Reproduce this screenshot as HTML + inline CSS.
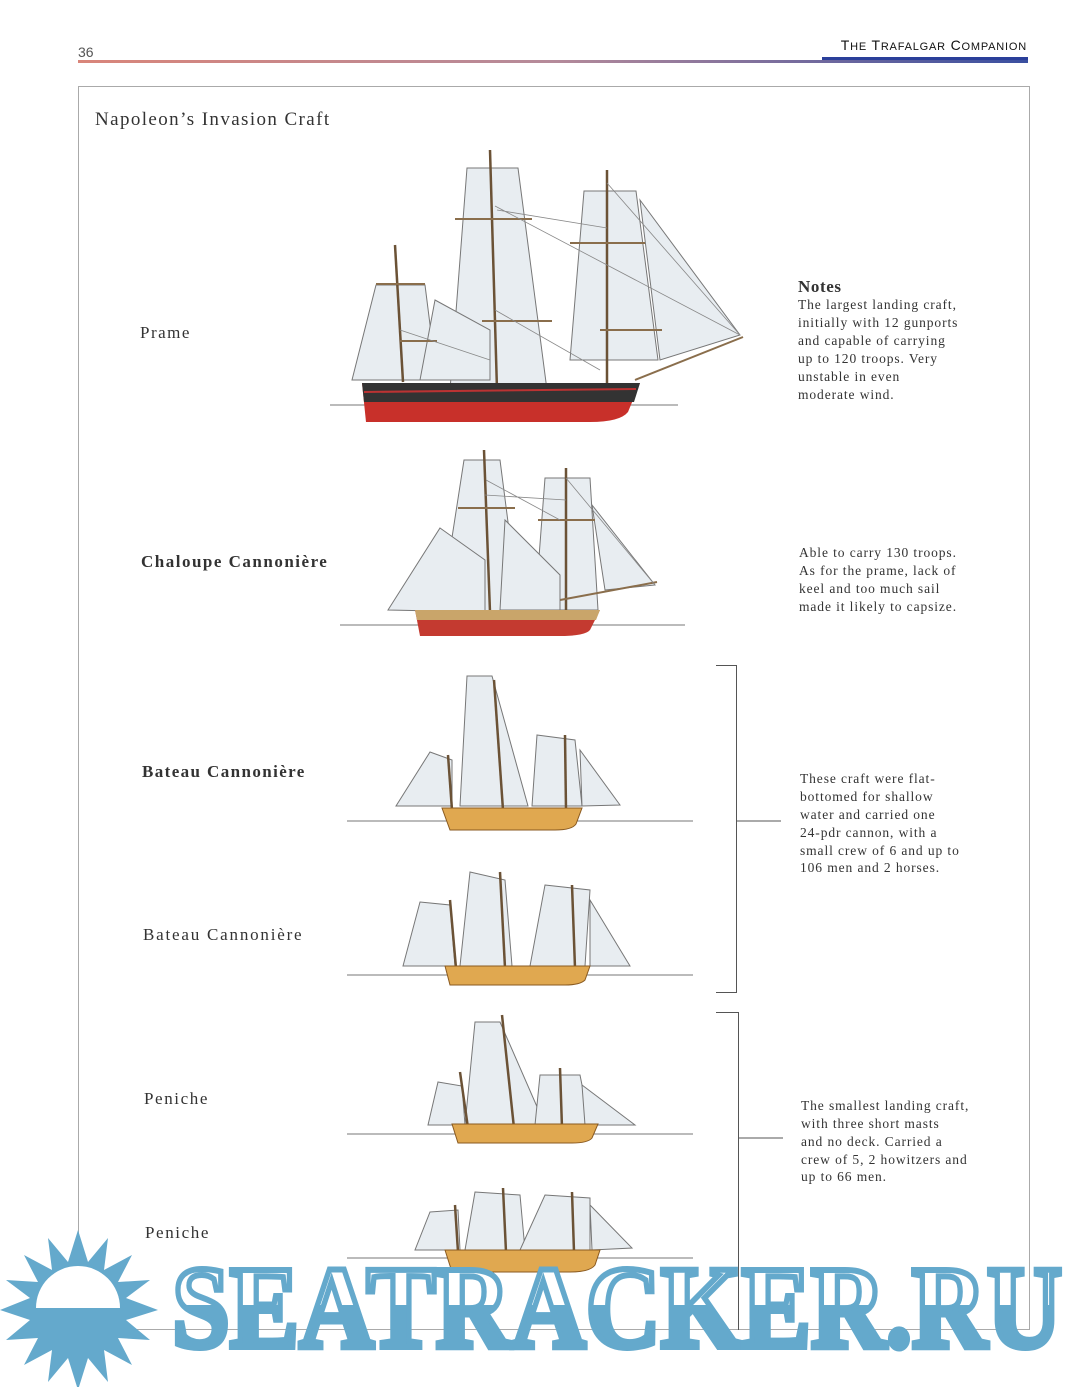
<!DOCTYPE html>
<html><head><meta charset="utf-8"><style>
html,body{margin:0;padding:0;background:#fff;}
svg{display:block;}
.s{font-family:"Liberation Serif",serif;fill:#333;}
.sail{fill:#e8edf1;stroke:#777;stroke-width:1;}
.mast{stroke:#6b5236;stroke-width:2.5;}
.yard{stroke:#8a6e4c;stroke-width:2;}
.rig{stroke:#888;stroke-width:0.8;fill:none;}
.wl{stroke:#777;stroke-width:1;}
</style></head><body>
<svg width="1080" height="1387" viewBox="0 0 1080 1387" xmlns="http://www.w3.org/2000/svg">
<defs>
<linearGradient id="hl" x1="0" x2="1"><stop offset="0" stop-color="#d9857a"/><stop offset="0.5" stop-color="#b58a9a"/><stop offset="1" stop-color="#3a4fa0"/></linearGradient>
<linearGradient id="wm" x1="0" x2="0" y1="0" y2="1"><stop offset="0.48" stop-color="#fff"/><stop offset="0.48" stop-color="#64a9cc"/></linearGradient>
</defs>
<text x="78" y="57" font-size="14" fill="#555" style="font-family:'Liberation Sans',sans-serif">36</text>
<text x="1027" y="50" text-anchor="end" font-size="14" letter-spacing="0.8" style="font-family:'Liberation Sans',sans-serif" fill="#111">T<tspan font-size="11">HE</tspan> T<tspan font-size="11">RAFALGAR</tspan> C<tspan font-size="11">OMPANION</tspan></text>
<rect x="78" y="60" width="950" height="3" fill="url(#hl)"/>
<rect x="822" y="57" width="206" height="3" fill="#2a3f9a"/>
<rect x="78.5" y="86.5" width="951" height="1243" fill="none" stroke="#aaa" stroke-width="1"/>
<text x="95" y="125" class="s" font-size="19" letter-spacing="1.4">Napoleon’s Invasion Craft</text>

<!-- labels -->
<text x="140" y="338" class="s" font-size="17" letter-spacing="1.5">Prame</text>
<text x="141" y="567" class="s" font-size="17" font-weight="bold" letter-spacing="1.5">Chaloupe Cannonière</text>
<text x="142" y="777" class="s" font-size="17" font-weight="bold" letter-spacing="1.4">Bateau Cannonière</text>
<text x="143" y="940" class="s" font-size="17" letter-spacing="1.8">Bateau Cannonière</text>
<text x="144" y="1104" class="s" font-size="17" letter-spacing="1.6">Peniche</text>
<text x="145" y="1238" class="s" font-size="17" letter-spacing="1.6">Peniche</text>

<!-- notes -->
<g class="s" font-size="13.5" letter-spacing="0.9">
<text x="798" y="292" font-size="17" font-weight="bold" letter-spacing="0.6">Notes</text>
<text x="798" y="309">The largest landing craft,</text>
<text x="798" y="327">initially with 12 gunports</text>
<text x="798" y="345">and capable of carrying</text>
<text x="798" y="363">up to 120 troops. Very</text>
<text x="798" y="381">unstable in even</text>
<text x="798" y="399">moderate wind.</text>
<text x="799" y="557">Able to carry 130 troops.</text>
<text x="799" y="575">As for the prame, lack of</text>
<text x="799" y="593">keel and too much sail</text>
<text x="799" y="611">made it likely to capsize.</text>
<text x="800" y="783">These craft were flat-</text>
<text x="800" y="801">bottomed for shallow</text>
<text x="800" y="819">water and carried one</text>
<text x="800" y="837">24-pdr cannon, with a</text>
<text x="800" y="855">small crew of 6 and up to</text>
<text x="800" y="872">106 men and 2 horses.</text>
<text x="801" y="1110">The smallest landing craft,</text>
<text x="801" y="1128">with three short masts</text>
<text x="801" y="1146">and no deck. Carried a</text>
<text x="801" y="1164">crew of 5, 2 howitzers and</text>
<text x="801" y="1181">up to 66 men.</text>
</g>

<!-- brackets -->
<g stroke="#555" stroke-width="1" fill="none">
<path d="M716 665.5H736.5V992.5H716"/><path d="M736 821H781"/>
<path d="M716 1012.5H738.5V1330"/><path d="M738 1138H783"/>
</g>

<!-- Prame -->
<g>
<line x1="330" y1="405" x2="678" y2="405" class="wl"/>
<polygon class="sail" points="467,168 518,168 547,390 450,390"/>
<polygon class="sail" points="584,191 636,191 658,360 570,360"/>
<polygon class="sail" points="376,285 425,285 437,380 352,380"/>
<polygon class="sail" points="640,200 740,335 660,360"/>
<polygon class="sail" points="435,300 490,330 490,380 420,380"/>
<line x1="490" y1="150" x2="497" y2="390" class="mast"/>
<line x1="607" y1="170" x2="607" y2="385" class="mast"/>
<line x1="395" y1="245" x2="403" y2="382" class="mast"/>
<line x1="455" y1="219" x2="532" y2="219" class="yard"/><line x1="482" y1="321" x2="552" y2="321" class="yard"/>
<line x1="570" y1="243" x2="645" y2="243" class="yard"/><line x1="600" y1="330" x2="662" y2="330" class="yard"/>
<line x1="376" y1="284" x2="425" y2="284" class="yard"/><line x1="400" y1="341" x2="437" y2="341" class="yard"/>
<line x1="635" y1="380" x2="743" y2="337" class="yard"/>
<path class="rig" d="M495 206L740 335M607 183L740 335M497 210L607 228M400 330L490 360M495 310L600 370"/>
<path d="M362 383H640L628 412Q620 422 590 422H366Z" fill="#c8302a"/>
<path d="M362 383H640L634 402H364Z" fill="#333"/>
<line x1="364" y1="392" x2="636" y2="389" stroke="#b33" stroke-width="2"/>
</g>

<!-- Chaloupe -->
<g>
<line x1="340" y1="625" x2="685" y2="625" class="wl"/>
<polygon class="sail" points="464,460 500,460 520,615 440,615"/>
<polygon class="sail" points="545,478 590,478 598,610 535,610"/>
<polygon class="sail" points="440,528 485,560 485,612 388,610"/>
<polygon class="sail" points="592,505 655,585 605,590"/>
<polygon class="sail" points="505,520 560,575 560,610 500,610"/>
<line x1="484" y1="450" x2="490" y2="612" class="mast"/>
<line x1="566" y1="468" x2="566" y2="612" class="mast"/>
<line x1="458" y1="508" x2="515" y2="508" class="yard"/><line x1="538" y1="520" x2="595" y2="520" class="yard"/>
<line x1="560" y1="600" x2="657" y2="582" class="yard"/>
<path class="rig" d="M485 495L566 500M566 478L655 585M486 480L560 520"/>
<path d="M415 610H600L590 630Q585 636 560 636H420Z" fill="#c43a30"/>
<path d="M415 610H600L596 620H417Z" fill="#c9a56a"/>
</g>

<!-- Bateau 1 -->
<g>
<line x1="347" y1="821" x2="693" y2="821" class="wl"/>
<polygon class="sail" points="467,676 492,676 528,806 460,806"/>
<polygon class="sail" points="537,735 575,740 582,806 532,806"/>
<polygon class="sail" points="430,752 452,760 452,806 396,806"/>
<polygon class="sail" points="580,750 620,805 582,806"/>
<line x1="494" y1="680" x2="503" y2="810" class="mast"/>
<line x1="565" y1="735" x2="566" y2="810" class="mast"/>
<line x1="448" y1="755" x2="452" y2="810" class="mast"/>
<path d="M442 808H582L576 824Q572 830 555 830H450Z" fill="#e0a850" stroke="#8a5a20"/>
</g>

<!-- Bateau 2 -->
<g>
<line x1="347" y1="975" x2="693" y2="975" class="wl"/>
<polygon class="sail" points="470,872 505,880 512,966 460,966"/>
<polygon class="sail" points="545,885 590,890 585,966 530,966"/>
<polygon class="sail" points="420,902 450,905 455,966 403,966"/>
<polygon class="sail" points="590,900 630,966 590,966"/>
<line x1="500" y1="872" x2="505" y2="968" class="mast"/>
<line x1="572" y1="885" x2="575" y2="968" class="mast"/>
<line x1="450" y1="900" x2="456" y2="968" class="mast"/>
<path d="M445 966H590L585 980Q580 985 565 985H450Z" fill="#e0a850" stroke="#8a5a20"/>
</g>

<!-- Peniche 1 -->
<g>
<line x1="347" y1="1134" x2="693" y2="1134" class="wl"/>
<polygon class="sail" points="475,1022 500,1022 545,1125 465,1125"/>
<polygon class="sail" points="540,1075 580,1075 590,1125 535,1125"/>
<polygon class="sail" points="438,1082 462,1086 465,1125 428,1125"/>
<polygon class="sail" points="582,1085 635,1125 585,1125"/>
<line x1="502" y1="1015" x2="514" y2="1128" class="mast"/>
<line x1="560" y1="1068" x2="562" y2="1128" class="mast"/>
<line x1="460" y1="1072" x2="468" y2="1128" class="mast"/>
<path d="M452 1124H598L592 1138Q588 1143 572 1143H458Z" fill="#e0a850" stroke="#8a5a20"/>
</g>

<!-- Peniche 2 -->
<g>
<line x1="347" y1="1258" x2="693" y2="1258" class="wl"/>
<polygon class="sail" points="475,1192 520,1195 525,1250 465,1250"/>
<polygon class="sail" points="545,1195 590,1198 590,1250 520,1250"/>
<polygon class="sail" points="430,1212 458,1210 460,1250 415,1250"/>
<polygon class="sail" points="590,1205 632,1248 592,1250"/>
<line x1="503" y1="1188" x2="506" y2="1252" class="mast"/>
<line x1="572" y1="1192" x2="574" y2="1252" class="mast"/>
<line x1="455" y1="1205" x2="458" y2="1252" class="mast"/>
<path d="M445 1250H600L595 1265Q590 1272 570 1272H452Z" fill="#e0a850" stroke="#8a5a20"/>
</g>

<!-- watermark -->
<g fill="#64a9cc">
<polygon points="78,1230 88,1262 108,1238 104,1270 132,1255 118,1282 150,1280 126,1298 158,1310 126,1320 150,1340 118,1338 132,1365 104,1350 108,1382 88,1358 78,1390 68,1358 48,1382 52,1350 24,1365 38,1338 6,1340 30,1320 0,1310 30,1298 6,1280 38,1282 24,1255 52,1270 48,1238 68,1262"/>
<path d="M36 1308A42 42 0 0 1 120 1308Z" fill="#fff"/>
</g>
<text x="172" y="1347" textLength="890" lengthAdjust="spacingAndGlyphs" font-family="Liberation Serif,serif" font-weight="bold" font-size="118" fill="url(#wm)" stroke="#64a9cc" stroke-width="6">SEATRACKER.RU</text>
</svg>
</body></html>
